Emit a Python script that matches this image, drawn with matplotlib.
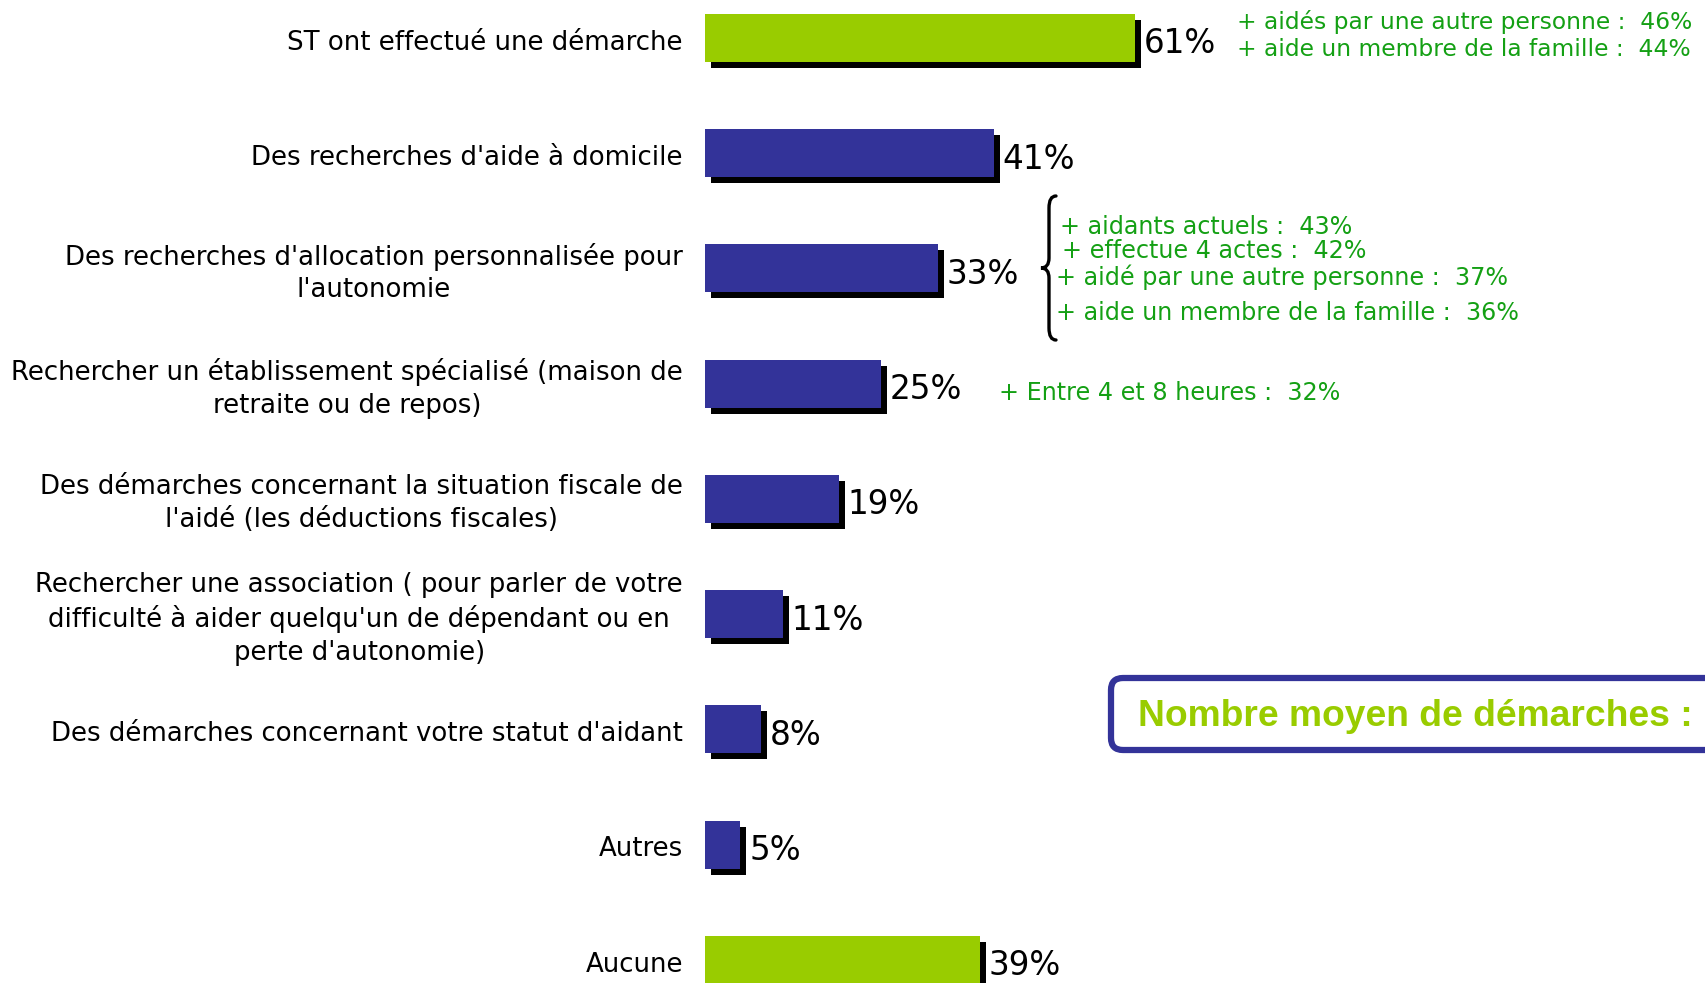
"""Démarches effectuées par les aidants - horizontal bar chart."""

import matplotlib
matplotlib.use("Agg")
import matplotlib.pyplot as plt
import matplotlib.transforms as mtransforms
from matplotlib.patches import FancyBboxPatch, PathPatch
from matplotlib.path import Path

CATEGORIES = [
    "ST ont effectué une démarche",
    "Des recherches d'aide à domicile",
    "Des recherches d'allocation personnalisée pour\nl'autonomie",
    "Rechercher un établissement spécialisé (maison de\nretraite ou de repos)",
    "Des démarches concernant la situation fiscale de\nl'aidé (les déductions fiscales)",
    "Rechercher une association ( pour parler de votre\ndifficulté à aider quelqu'un de dépendant ou en\nperte d'autonomie)",
    "Des démarches concernant votre statut d'aidant",
    "Autres",
    "Aucune",
]
VALUES = [61, 41, 33, 25, 19, 11, 8, 5, 39]
HIGHLIGHT = [True, False, False, False, False, False, False, False, True]

NOTES_TOP = ["+ aidés par une autre personne :  46%", "+ aide un membre de la famille :  44%"]
NOTES_APA = [
    "+ aidants actuels :  43%",
    "+ effectue 4 actes :  42%",
    "+ aidé par une autre personne :  37%",
    "+ aide un membre de la famille :  36%",
]
NOTE_ETAB = "+ Entre 4 et 8 heures :  32%"
BOX_TEXT = "Nombre moyen de démarches :"

GREEN = "#99CC00"
BLUE = "#333399"
NOTE_GREEN = "#14A014"

W, H = 1706, 983
fig = plt.figure(figsize=(W / 100, H / 100), dpi=100)

# axes: x=0 at pixel 705, 7.05 px per percent; rows spaced 115.25 px
x0_px, px_per_pct = 705, 7.05
row_px, first_px = 115.25, 38
ax = fig.add_axes([x0_px / W, 0, 1 - x0_px / W, 1])
ax.set_xlim(0, (W - x0_px) / px_per_pct)
ax.set_ylim(8 + (H - 960) / row_px, -first_px / row_px)
ax.axis("off")

bar_h = 48 / row_px
dx, dy = 6 / px_per_pct, 6 / row_px
ypos = list(range(len(VALUES)))
colors = [GREEN if h else BLUE for h in HIGHLIGHT]

ax.barh([y + dy for y in ypos], VALUES, left=dx, height=bar_h, color="black", zorder=1)
ax.barh(ypos, VALUES, height=bar_h, color=colors, zorder=2)

for y, v, label in zip(ypos, VALUES, CATEGORIES):
    ax.text(v + 1.25, y + 0.05, f"{v}%", ha="left", va="center", fontsize=23.5, color="black")
    ax.text(-22 / px_per_pct, y + 0.04, label, ha="right", va="center", multialignment="center",
            fontsize=18.7, linespacing=1.33, color="black")

# pixel transform (y down) for annotations
pix = mtransforms.Affine2D().scale(1, -1).translate(0, H).scale(1 / W, 1 / H) + fig.transFigure

for i, txt in enumerate(NOTES_TOP):
    fig.text(1237, 22 + i * 27, txt, transform=pix, ha="left", va="center",
             fontsize=16.8, color=NOTE_GREEN)

apa_pos = [(1060, 227), (1062, 251), (1056, 277), (1056, 313)]
for (x, y), txt in zip(apa_pos, NOTES_APA):
    fig.text(x, y, txt, transform=pix, ha="left", va="center", fontsize=17.2, color=NOTE_GREEN)

fig.text(999, 393, NOTE_ETAB, transform=pix, ha="left", va="center", fontsize=17.2, color=NOTE_GREEN)

# curly brace
bx_r, bx_m, bx_t = 1056, 1049, 1041
top, mid, bot = 196, 268, 340
verts = [
    (bx_r, top), (bx_m, top), (bx_m, top + 12),
    (bx_m, mid - 10),
    (bx_m, mid), (bx_t, mid),
    (bx_m, mid), (bx_m, mid + 10),
    (bx_m, bot - 12),
    (bx_m, bot), (bx_r, bot),
]
codes = [Path.MOVETO, Path.CURVE3, Path.CURVE3, Path.LINETO, Path.CURVE3, Path.CURVE3,
         Path.CURVE3, Path.CURVE3, Path.LINETO, Path.CURVE3, Path.CURVE3]
fig.patches.append(PathPatch(Path(verts, codes), transform=pix, fill=False,
                             edgecolor="black", linewidth=2.4, capstyle="round"))

# box
box = FancyBboxPatch((1111, 678), 640, 72, boxstyle="round,pad=0,rounding_size=12",
                     transform=pix, facecolor="white", edgecolor=BLUE, linewidth=4.5)
fig.patches.append(box)
fig.text(1138, 716, BOX_TEXT, transform=pix, ha="left", va="center", fontsize=26.8,
         fontweight="bold", color=GREEN, family="Liberation Sans")

fig.savefig("out.png", dpi=100, facecolor="white")
